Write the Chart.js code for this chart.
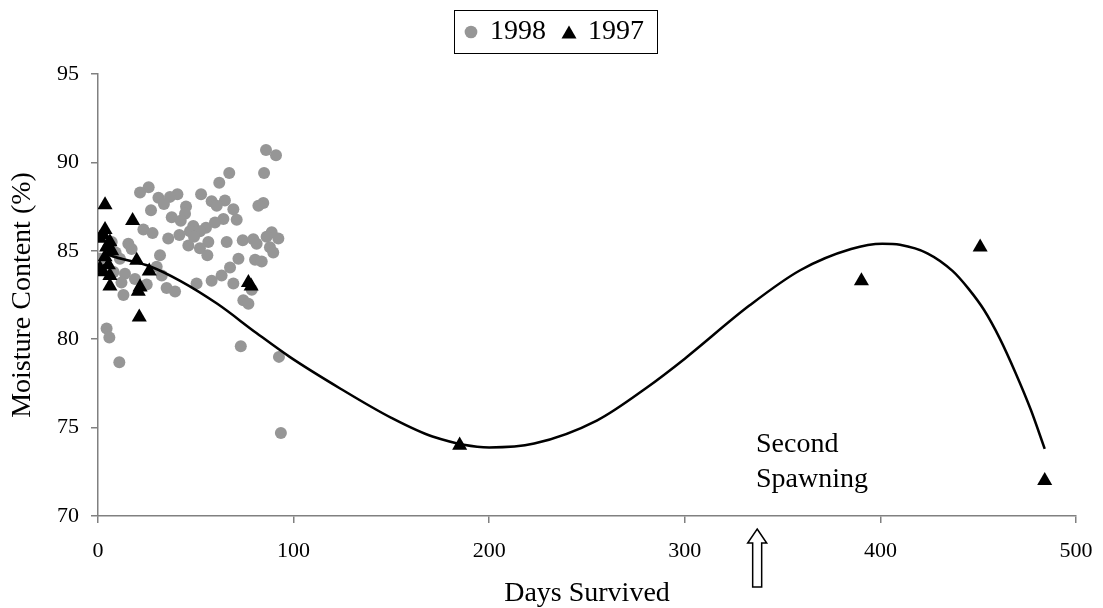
<!DOCTYPE html>
<html>
<head>
<meta charset="utf-8">
<script src="https://cdn.jsdelivr.net/npm/chart.js@4/dist/chart.umd.min.js"></script>
<style>
  html, body { margin: 0; padding: 0; background: #fff; }
  #wrap { width: 1103px; height: 608px; }
</style>
</head>
<body>
<div id="wrap"><canvas id="moistureChart"></canvas></div>
<script>
// 1998 fish (grey dots)
const days1998 = [85.9, 91.0, 67.1, 84.9, 62.0, 25.9, 21.5, 52.7, 40.6, 30.9, 36.8, 33.7, 58.1, 64.9, 84.5, 82.0,
    45.0, 60.7, 69.2, 27.1, 44.5, 37.7, 64.1, 70.9, 42.3, 59.8, 48.7, 55.2, 23.2, 27.9, 88.8, 47.0, 52.1, 41.6,
    35.9, 49.1, 56.4, 65.8, 74.0, 79.4, 81.1, 86.2, 92.2, 15.5, 46.2, 87.9, 52.1, 17.2, 55.9, 89.6, 31.7, 1.0,
    11.2, 71.8, 80.3, 83.7, 67.5, 30.0, 13.8, 32.6, 63.2, 58.1, 50.4, 18.9, 24.9, 69.2, 35.1, 39.4, 13.0, 74.3,
    76.9, 78.6, 4.4, 5.8, 10.9, 73.0, 92.5, 93.5, 7.0, 9.0, 12.0, 8.0];
const moisture1998 = [90.7, 90.4, 89.4, 89.4, 88.85, 88.6, 88.3, 88.2, 88.2, 88.0, 88.05, 87.65, 87.8, 87.85, 87.7, 87.55,
    87.5, 87.55, 87.35, 87.3, 87.1, 86.9, 86.8, 86.75, 86.7, 86.6, 86.4, 86.3, 86.2, 86.0, 86.05, 86.1, 86.1, 85.9,
    85.7, 85.8, 85.5, 85.5, 85.6, 85.65, 85.4, 85.8, 85.7, 85.4, 85.3, 85.2, 85.15, 85.1, 84.75, 84.9, 84.75, 84.55,
    84.55, 84.55, 84.5, 84.4, 84.05, 84.1, 83.7, 83.6, 83.6, 83.3, 83.15, 83.4, 83.1, 83.15, 82.9, 82.7, 82.5, 82.2,
    82.0, 82.8, 80.6, 80.1, 78.7, 79.6, 79.0, 74.7, 85.5, 84.9, 83.2, 83.8];

// 1997 fish (black triangles)
const days1997 = [3.6, 17.7, 3.6, 1.0, 2.7, 6.1, 4.4, 7.0, 19.8, 26.2, 3.6, 5.3, 2.7, 6.1, 6.1, 21.5, 20.6, 21.1,
    76.9, 78.3, 1.0, 184.9, 390.3, 451, 484];
const moisture1997 = [87.6, 86.7, 86.2, 85.7, 85.9, 85.5, 85.2, 85.0, 84.45, 83.85, 84.65, 84.2, 83.8, 83.6, 83.0, 82.95,
    82.7, 81.25, 83.2, 83.0, 84.0, 74.0, 83.3, 85.2, 72.0];

// trend line
const trendDays = [3, 6, 27, 42, 61, 81, 98, 124, 150, 171, 200, 223, 255, 281, 300, 333, 359, 385, 401, 410, 424,
    437, 445, 453, 461, 469, 477, 484];
const trendMoisture = [84.9, 84.75, 84.1, 83.3, 82.0, 80.35, 79.0, 77.2, 75.55, 74.5, 73.88, 74.1, 75.4, 77.3, 78.9, 81.9,
    83.9, 85.1, 85.4, 85.34, 84.86, 83.85, 82.86, 81.65, 80.05, 78.12, 75.98, 73.8];

const xTicks = [0, 100, 200, 300, 400, 500];
const yTicks = [70, 75, 80, 85, 90, 95];

const spawnDay = 337;
const noteLines = ['Second', 'Spawning'];

const SERIF = "'Liberation Serif', 'Times New Roman', serif";
const AXIS_GREY = '#808080';

function toPoints(xs, ys) {
    return xs.map((x, i) => ({ x: x, y: ys[i] }));
}

// legend triangle is larger than the legend dot in the original
function legendTriangle() {
    const c = document.createElement('canvas');
    c.width = 16;
    c.height = 14;
    const g = c.getContext('2d');
    g.fillStyle = '#000';
    g.beginPath();
    g.moveTo(8, 0.5);
    g.lineTo(15.5, 13.5);
    g.lineTo(0.5, 13.5);
    g.closePath();
    g.fill();
    return c;
}
const triangleIcon = legendTriangle();

// extra room under the legend, and nudge it right like the original
const legendGap = {
    id: 'legendGap',
    beforeInit(chart) {
        const fit = chart.legend.fit;
        chart.legend.fit = function () {
            fit.bind(chart.legend)();
            this.height += 18;
        };
    },
    afterLayout(chart) {
        chart.legend.left += 17;
        chart.legend.right += 17;
    }
};

// box round the legend items
const legendFrame = {
    id: 'legendFrame',
    afterDraw(chart) {
        const boxes = chart.legend.legendHitBoxes;
        if (!boxes || !boxes.length) return;
        const left = Math.min(...boxes.map(b => b.left)) - 12;
        const right = Math.max(...boxes.map(b => b.left + b.width)) + 13;
        const top = Math.min(...boxes.map(b => b.top)) - 8;
        const bottom = Math.max(...boxes.map(b => b.top + b.height)) + 7;
        const ctx = chart.ctx;
        ctx.save();
        ctx.strokeStyle = '#000';
        ctx.lineWidth = 1;
        ctx.strokeRect(Math.round(left) + 0.5, Math.round(top) + 0.5, Math.round(right - left), Math.round(bottom - top));
        ctx.restore();
    }
};

// "Second Spawning" note and the hollow arrow under the x axis
const spawnNote = {
    id: 'spawnNote',
    afterDraw(chart) {
        const ctx = chart.ctx;
        const xs = chart.scales.x;
        const ys = chart.scales.y;
        const ax = xs.getPixelForValue(spawnDay);
        const tipY = chart.chartArea.bottom + 13;

        ctx.save();
        ctx.fillStyle = '#000';
        ctx.font = '28px ' + SERIF;
        ctx.textAlign = 'left';
        ctx.textBaseline = 'alphabetic';
        ctx.fillText(noteLines[0], xs.getPixelForValue(336.4), ys.getPixelForValue(73.63));
        ctx.fillText(noteLines[1], xs.getPixelForValue(336.4), ys.getPixelForValue(71.65));

        ctx.beginPath();
        ctx.moveTo(ax, tipY);
        ctx.lineTo(ax + 9.5, tipY + 14);
        ctx.lineTo(ax + 4.5, tipY + 14);
        ctx.lineTo(ax + 4.5, tipY + 58);
        ctx.lineTo(ax - 4.5, tipY + 58);
        ctx.lineTo(ax - 4.5, tipY + 14);
        ctx.lineTo(ax - 9.5, tipY + 14);
        ctx.closePath();
        ctx.fillStyle = '#fff';
        ctx.fill();
        ctx.strokeStyle = '#000';
        ctx.lineWidth = 1.5;
        ctx.stroke();
        ctx.restore();
    }
};

function mostrarGrafico() {
    const ctx = document.getElementById('moistureChart').getContext('2d');

    new Chart(ctx, {
        type: 'scatter',
        data: {
            datasets: [
                {
                    label: '1998',
                    data: toPoints(days1998, moisture1998),
                    pointStyle: 'circle',
                    pointRadius: 6,
                    backgroundColor: '#969696',
                    borderColor: '#969696',
                    borderWidth: 0,
                    order: 2
                },
                {
                    label: '1997',
                    data: toPoints(days1997, moisture1997),
                    pointStyle: 'triangle',
                    pointRadius: 8.7,
                    backgroundColor: '#000',
                    borderColor: '#000',
                    borderWidth: 0,
                    order: 1
                },
                {
                    label: 'trend',
                    type: 'line',
                    data: toPoints(trendDays, trendMoisture),
                    showLine: true,
                    pointRadius: 0,
                    borderColor: '#000',
                    borderWidth: 2.5,
                    cubicInterpolationMode: 'monotone',
                    fill: false,
                    order: 0
                }
            ]
        },
        options: {
            responsive: true,
            maintainAspectRatio: false,
            animation: false,
            layout: { padding: { top: 0, right: 27, left: 0, bottom: 0 } },
            plugins: {
                legend: {
                    position: 'top',
                    labels: {
                        usePointStyle: true,
                        boxWidth: 10,
                        boxHeight: 9,
                        padding: 18,
                        color: '#000',
                        font: { family: SERIF, size: 28 },
                        filter: item => item.text !== 'trend',
                        sort: (a, b) => a.datasetIndex - b.datasetIndex,
                        generateLabels(chart) {
                            const items = Chart.defaults.plugins.legend.labels.generateLabels(chart);
                            items.forEach(it => {
                                if (it.text === '1997') it.pointStyle = triangleIcon;
                            });
                            return items;
                        }
                    }
                },
                tooltip: { enabled: false }
            },
            scales: {
                x: {
                    type: 'linear',
                    min: 0,
                    max: 500,
                    afterBuildTicks: s => { s.ticks = xTicks.map(v => ({ value: v })); },
                    afterFit: s => { s.height = 92; s.paddingLeft = 0; s.paddingRight = 0; },
                    grid: { drawOnChartArea: false, color: AXIS_GREY, tickLength: 7, lineWidth: 1.5 },
                    border: { color: AXIS_GREY, width: 1.5 },
                    ticks: { color: '#000', padding: 15, maxRotation: 0, font: { family: SERIF, size: 22 } },
                    title: {
                        display: true,
                        text: 'Days Survived',
                        color: '#000',
                        font: { family: SERIF, size: 28, lineHeight: 0.95 },
                        padding: { top: 0, bottom: 1 }
                    }
                },
                y: {
                    type: 'linear',
                    min: 70,
                    max: 95,
                    afterBuildTicks: s => { s.ticks = yTicks.map(v => ({ value: v })); },
                    afterFit: s => { s.width = 98; },
                    grid: { drawOnChartArea: false, color: AXIS_GREY, tickLength: 7, lineWidth: 1.5 },
                    border: { color: AXIS_GREY, width: 1.5 },
                    ticks: { color: '#000', padding: 12, font: { family: SERIF, size: 22 } },
                    title: {
                        display: true,
                        text: 'Moisture Content (%)',
                        color: '#000',
                        font: { family: SERIF, size: 28, lineHeight: 1.2 },
                        padding: { top: 6, bottom: 4 }
                    }
                }
            }
        },
        plugins: [legendGap, legendFrame, spawnNote]
    });
}

mostrarGrafico();
</script>
</body>
</html>
